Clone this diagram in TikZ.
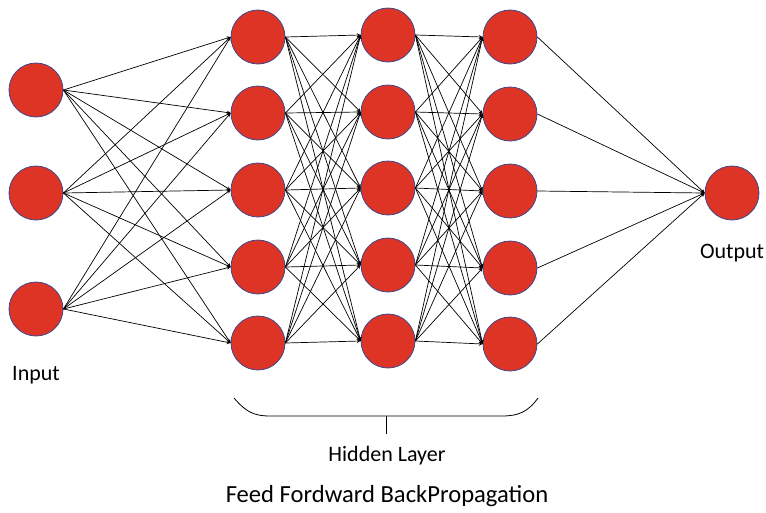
\documentclass[tikz,border=0pt]{standalone}
\usepackage{fontspec}
\setmainfont{Carlito}
\usetikzlibrary{positioning}
\definecolor{neuronred}{RGB}{222,52,38}
\definecolor{neuronrim}{RGB}{62,72,140}

\begin{document}
\begin{tikzpicture}
	[x=1pt,y=-1pt,->,>=stealth,line width=0.7pt,
	every node/.style={shape=circle,inner sep=0pt,draw=neuronrim,fill=neuronred,line width=0.8pt,minimum 
	size=54pt},
	tag/.style={draw=none,fill=none,shape=rectangle,minimum size=0pt,anchor=base,font=\fontsize{22}{26}\selectfont}]
	\useasboundingbox (0,0) rectangle (766,512);
	% input layer
	\node (i1) at (36,90) {};
	\node (i2) at (36,193) {};
	\node (i3) at (36,309) {};
	% hidden layers
	\foreach \y [count=\k] in {37,113,190,267,343}
		\node (a\k) at (258,\y) {};
	\foreach \y [count=\k] in {35,112,188,265,341}
		\node (b\k) at (388,\y) {};
	\foreach \y [count=\k] in {37,114,191,268,344}
		\node (c\k) at (510,\y) {};
	% output
	\node (o) at (732,193) {};

	\foreach \s in {1,2,3}
		\foreach \t in {1,...,5}
			\draw (i\s.east) -- (a\t.west);
	\foreach \s in {1,...,5}
		\foreach \t in {1,...,5}{
			\draw (a\s.east) -- (b\t.west);
			\draw (b\s.east) -- (c\t.west);
		}
	\foreach \s in {1,...,5}
		\draw (c\s.east) -- (o.west);

	\node[tag] (inlabel) at (36,380) {Input};
	\node[tag] (outlabel) at (732,258) {Output};
	\node[tag] (hidlabel) at (387,461) {Hidden Layer};
	\node[tag,font=\fontsize{24.6}{28}\selectfont] (title) at (387,502) {Feed Fordward BackPropagation};

	% brace under the hidden layers
	\draw[-,line width=0.8pt] (234,398) .. controls (246,412) and (254,416) .. (270,416)
		-- (502,416) .. controls (518,416) and (528,412) .. (538,398);
	\coordinate (brace) at (386,416);
	\coordinate (tick) at (386,434);
	\draw[-,line width=0.8pt] (brace) -- (tick);
\end{tikzpicture}
\end{document}
